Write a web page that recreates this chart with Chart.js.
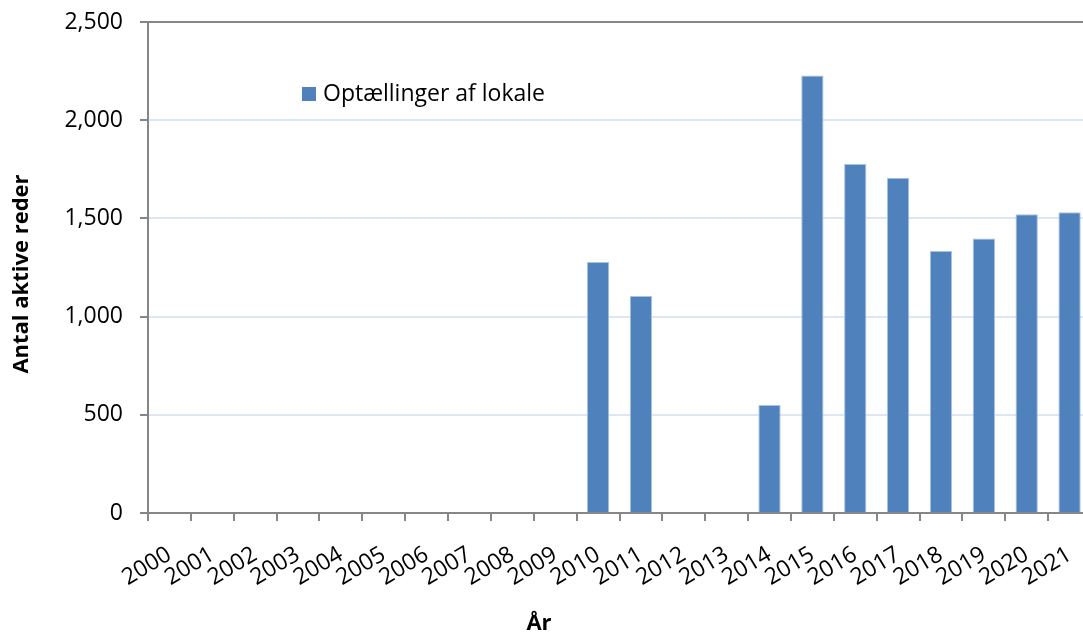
<!DOCTYPE html>
<html>
<head>
<meta charset="utf-8">
<script src="https://cdn.jsdelivr.net/npm/chart.js@4/dist/chart.umd.min.js"></script>
<style>
  html, body { margin: 0; padding: 0; background: #ffffff; overflow: hidden; }
  #wrap { position: relative; width: 1095px; height: 634px; }
</style>
</head>
<body>
<div id="wrap"><canvas id="c" width="1095" height="634"></canvas></div>
<script>
const years = ['2000','2001','2002','2003','2004','2005','2006','2007','2008','2009','2010','2011','2012','2013','2014','2015','2016','2017','2018','2019','2020','2021'];
const nests = [null,null,null,null,null,null,null,null,null,null,1278,1105,null,null,550,2227,1777,1707,1334,1398,1521,1531];
const seriesLabel = 'Optællinger af lokale';
const yTitle = 'Antal aktive reder';
const xTitle = 'År';
const yTicks = [0, 500, 1000, 1500, 2000, 2500];

const FONT = '"Open Sans", sans-serif';
const barColor = '#4f81bd';

const overlay = {
  id: 'overlay',
  afterDraw(chart) {
    const ctx = chart.ctx;
    const a = chart.chartArea;
    ctx.save();
    const ds = chart.data.datasets[0];
    const lx = a.left + 154, ly = a.top + 65;
    ctx.fillStyle = ds.backgroundColor;
    ctx.fillRect(lx, ly, 14, 14);
    ctx.fillStyle = '#000';
    ctx.font = '23px ' + FONT;
    ctx.textBaseline = 'middle';
    ctx.textAlign = 'left';
    ctx.fillText(ds.label, lx + 21, ly + 7);
    ctx.font = 'bold 22px ' + FONT;
    ctx.translate(22, 274);
    ctx.rotate(-Math.PI / 2);
    ctx.textAlign = 'center';
    ctx.fillText(yTitle, 0, 0);
    ctx.restore();
    ctx.save();
    ctx.font = 'bold 22px ' + FONT;
    ctx.fillStyle = '#000';
    ctx.textAlign = 'center';
    ctx.textBaseline = 'middle';
    ctx.fillText(xTitle, 539, 624);
    ctx.restore();
  }
};

new Chart(document.getElementById('c'), {
  type: 'bar',
  data: {
    labels: years,
    datasets: [{
      label: seriesLabel,
      data: nests,
      backgroundColor: barColor,
      borderColor: '#a9c2e0',
      borderWidth: 1,
      barPercentage: 0.52,
      categoryPercentage: 1.0
    }]
  },
  options: {
    responsive: false,
    animation: false,
    layout: { padding: { left: 0, right: 4, top: 22, bottom: 0 } },
    plugins: { legend: { display: false }, tooltip: { enabled: false }, title: { display: false } },
    scales: {
      x: {
        offset: true,
        grid: { display: true, offset: true, drawOnChartArea: false, color: '#868686', tickColor: '#868686', tickLength: 8, lineWidth: 2 },
        border: { display: true, color: '#868686', width: 2 },
        ticks: { color: '#000', font: { family: FONT, size: 23 }, minRotation: 31, maxRotation: 31, padding: 20, autoSkip: false },
        afterFit(s) { s.height = 121; s.paddingLeft = 0; s.paddingRight = 0; }
      },
      y: {
        min: 0, max: 2500,
        afterBuildTicks(s) { s.ticks = yTicks.map(v => ({ value: v })); },
        grid: {
          color: (c) => c.tick && c.tick.value === 2500 ? '#868686' : '#dde7f3',
          lineWidth: 2,
          tickColor: '#868686',
          tickLength: 8
        },
        border: { display: true, color: '#868686', width: 2 },
        ticks: {
          color: '#000', font: { family: FONT, size: 23 }, padding: 17,
          callback: (v) => v.toLocaleString('en-US')
        },
        afterFit(s) { s.width = 148; s.paddingTop = 0; s.paddingBottom = 0; }
      }
    }
  },
  plugins: [overlay]
});
</script>
</body>
</html>
